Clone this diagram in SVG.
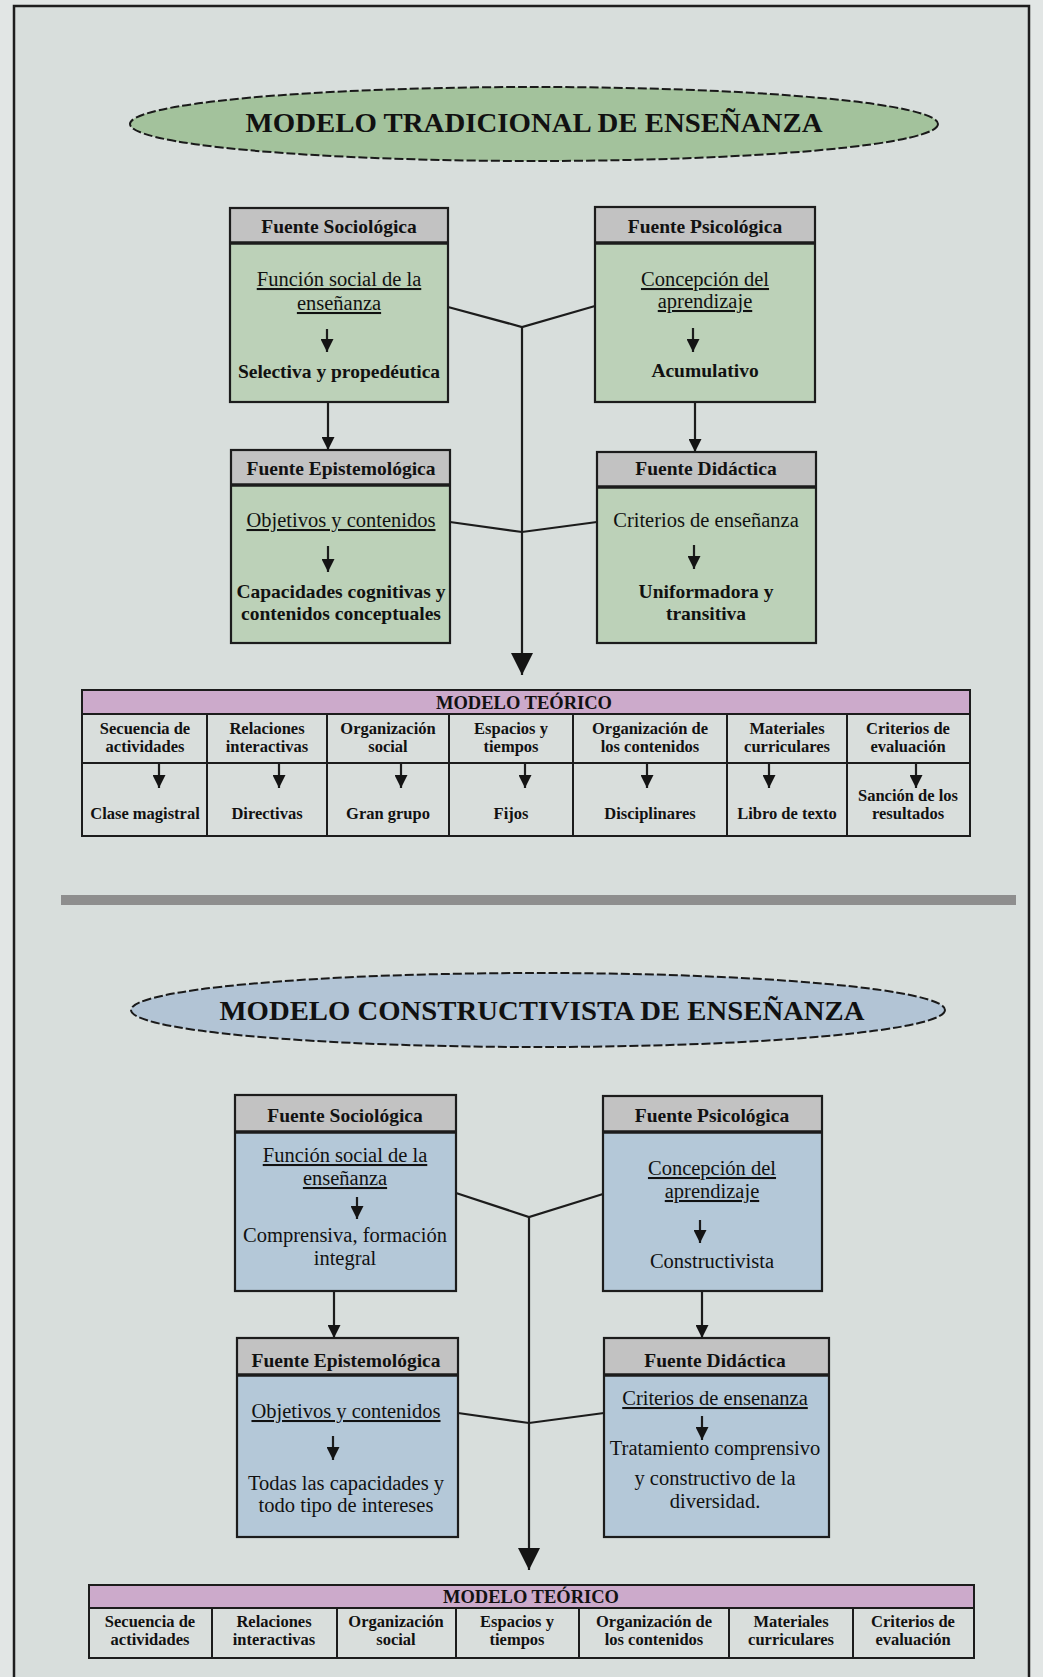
<svg xmlns="http://www.w3.org/2000/svg" width="1043" height="1677" viewBox="0 0 1043 1677">
  <style>
    text { font-family: "Liberation Serif", "Times New Roman", serif; fill: #111; text-anchor: middle; }
    .title { font-size: 28px; font-weight: bold; }
    .hd { font-size: 19.5px; font-weight: bold; }
    .bd { font-size: 20.5px; }
    .bb { font-size: 19.5px; font-weight: bold; }
    .ul { text-decoration: underline; }
    .th { font-size: 18.5px; font-weight: bold; }
    .tc { font-size: 16.5px; font-weight: bold; }
    .frame { fill: none; stroke: #1e1e1e; stroke-width: 2.5; }
    .ell { stroke: #1a1a1a; stroke-width: 2; stroke-dasharray: 9 3; }
    .green { fill: #bcd1b8; }
    .blue { fill: #b4c8d8; }
    .hdr { fill: #c2c2c2; }
    .edge { fill: none; stroke: #1c1c1c; stroke-width: 2.2; }
    .sep { stroke: #1c1c1c; stroke-width: 3.5; }
    .link { fill: none; stroke: #1c1c1c; stroke-width: 2.2; }
    .tip { stroke: #1c1c1c; stroke-width: 2.2; }
    .cell { fill: #d9dedc; }
    .tbar { fill: #ccaacb; }
    .grid { fill: none; stroke: #1c1c1c; stroke-width: 2; }
  </style>
  <defs>
    <marker id="ah" viewBox="0 0 10 10" refX="10" refY="5" markerWidth="13" markerHeight="13" markerUnits="userSpaceOnUse" orient="auto">
      <path d="M0,0 L10,5 L0,10 z" fill="#141414"/>
    </marker>
    <marker id="ahBig" viewBox="0 0 10 10" refX="10" refY="5" markerWidth="22" markerHeight="22" markerUnits="userSpaceOnUse" orient="auto">
      <path d="M0,0 L10,5 L0,10 z" fill="#141414"/>
    </marker>
  </defs>

  <!-- page -->
  <rect x="0" y="0" width="1043" height="1677" fill="#e2e6e5"/>
  <rect x="14" y="6" width="1015" height="1690" fill="#d8dedc"/>
  <path class="frame" d="M14,1677 L14,6 L1029,6 L1029,1677"/>

  <!-- ===== traditional model ===== -->
  <g id="title-tradicional">
    <ellipse class="ell" cx="534" cy="124" rx="404" ry="37" fill="#a3c29c"/>
    <text class="title" x="534" y="132" textLength="577" lengthAdjust="spacingAndGlyphs">MODELO TRADICIONAL DE ENSEÑANZA</text>
  </g>

  <g id="t-sociologica">
    <rect class="green" x="230" y="208" width="218" height="194"/>
    <rect class="hdr" x="230" y="208" width="218" height="35"/>
    <line class="sep" x1="230" y1="243" x2="448" y2="243"/>
    <rect class="edge" x="230" y="208" width="218" height="194"/>
    <text class="hd" x="339" y="233">Fuente Sociológica</text>
    <text class="bd ul" x="339" y="286">Función social de la</text>
    <text class="bd ul" x="339" y="310">enseñanza</text>
    <line class="tip" x1="327" y1="329" x2="327" y2="352" marker-end="url(#ah)"/>
    <text class="bb" x="339" y="378">Selectiva y propedéutica</text>
  </g>

  <g id="t-psicologica">
    <rect class="green" x="595" y="207" width="220" height="195"/>
    <rect class="hdr" x="595" y="207" width="220" height="36"/>
    <line class="sep" x1="595" y1="243" x2="815" y2="243"/>
    <rect class="edge" x="595" y="207" width="220" height="195"/>
    <text class="hd" x="705" y="233">Fuente Psicológica</text>
    <text class="bd ul" x="705" y="286">Concepción del</text>
    <text class="bd ul" x="705" y="308">aprendizaje</text>
    <line class="tip" x1="693" y1="328" x2="693" y2="352" marker-end="url(#ah)"/>
    <text class="bb" x="705" y="377">Acumulativo</text>
  </g>

  <g id="t-epistemologica">
    <rect class="green" x="231" y="450" width="219" height="193"/>
    <rect class="hdr" x="231" y="450" width="219" height="35"/>
    <line class="sep" x1="231" y1="485" x2="450" y2="485"/>
    <rect class="edge" x="231" y="450" width="219" height="193"/>
    <text class="hd" x="341" y="475">Fuente Epistemológica</text>
    <text class="bd ul" x="341" y="527">Objetivos y contenidos</text>
    <line class="tip" x1="328" y1="546" x2="328" y2="572" marker-end="url(#ah)"/>
    <text class="bb" x="341" y="598">Capacidades cognitivas y</text>
    <text class="bb" x="341" y="620">contenidos conceptuales</text>
  </g>

  <g id="t-didactica">
    <rect class="green" x="597" y="452" width="219" height="191"/>
    <rect class="hdr" x="597" y="452" width="219" height="35"/>
    <line class="sep" x1="597" y1="487" x2="816" y2="487"/>
    <rect class="edge" x="597" y="452" width="219" height="191"/>
    <text class="hd" x="706" y="475">Fuente Didáctica</text>
    <text class="bd" x="706" y="527">Criterios de enseñanza</text>
    <line class="tip" x1="694" y1="545" x2="694" y2="569" marker-end="url(#ah)"/>
    <text class="bb" x="706" y="598">Uniformadora y</text>
    <text class="bb" x="706" y="620">transitiva</text>
  </g>

  <g id="t-modelo-teorico">
    <rect class="cell" x="82" y="690" width="888" height="146"/>
    <rect class="tbar" x="82" y="690" width="888" height="24"/>
    <text class="th" x="524" y="709">MODELO TEÓRICO</text>
    <path class="grid" d="M82,690 H970 V836 H82 Z M82,714 H970 M82,763 H970 M207,714 V836 M327,714 V836 M449,714 V836 M573,714 V836 M727,714 V836 M847,714 V836"/>
    <text class="tc" x="145" y="734">Secuencia de</text>
    <text class="tc" x="145" y="752">actividades</text>
    <text class="tc" x="267" y="734">Relaciones</text>
    <text class="tc" x="267" y="752">interactivas</text>
    <text class="tc" x="388" y="734">Organización</text>
    <text class="tc" x="388" y="752">social</text>
    <text class="tc" x="511" y="734">Espacios y</text>
    <text class="tc" x="511" y="752">tiempos</text>
    <text class="tc" x="650" y="734">Organización de</text>
    <text class="tc" x="650" y="752">los contenidos</text>
    <text class="tc" x="787" y="734">Materiales</text>
    <text class="tc" x="787" y="752">curriculares</text>
    <text class="tc" x="908" y="734">Criterios de</text>
    <text class="tc" x="908" y="752">evaluación</text>
    <line class="tip" x1="159" y1="764" x2="159" y2="788" marker-end="url(#ah)"/>
    <line class="tip" x1="279" y1="764" x2="279" y2="788" marker-end="url(#ah)"/>
    <line class="tip" x1="401" y1="764" x2="401" y2="788" marker-end="url(#ah)"/>
    <line class="tip" x1="525" y1="764" x2="525" y2="788" marker-end="url(#ah)"/>
    <line class="tip" x1="647" y1="764" x2="647" y2="788" marker-end="url(#ah)"/>
    <line class="tip" x1="769" y1="764" x2="769" y2="788" marker-end="url(#ah)"/>
    <line class="tip" x1="916" y1="764" x2="916" y2="788" marker-end="url(#ah)"/>
    <text class="tc" x="145" y="819">Clase magistral</text>
    <text class="tc" x="267" y="819">Directivas</text>
    <text class="tc" x="388" y="819">Gran grupo</text>
    <text class="tc" x="511" y="819">Fijos</text>
    <text class="tc" x="650" y="819">Disciplinares</text>
    <text class="tc" x="787" y="819">Libro de texto</text>
    <text class="tc" x="908" y="801">Sanción de los</text>
    <text class="tc" x="908" y="819">resultados</text>
  </g>

  <!-- divider between the two models -->
  <rect x="61" y="895" width="955" height="10" fill="#8e8e8e"/>

  <!-- ===== constructivist model ===== -->
  <g id="title-constructivista">
    <ellipse class="ell" cx="538" cy="1010" rx="407" ry="37" fill="#b2c4d5"/>
    <text class="title" x="542" y="1020" textLength="645" lengthAdjust="spacingAndGlyphs">MODELO CONSTRUCTIVISTA DE ENSEÑANZA</text>
  </g>

  <g id="c-sociologica">
    <rect class="blue" x="235" y="1095" width="221" height="196"/>
    <rect class="hdr" x="235" y="1095" width="221" height="37"/>
    <line class="sep" x1="235" y1="1132" x2="456" y2="1132"/>
    <rect class="edge" x="235" y="1095" width="221" height="196"/>
    <text class="hd" x="345" y="1122">Fuente Sociológica</text>
    <text class="bd ul" x="345" y="1162">Función social de la</text>
    <text class="bd ul" x="345" y="1185">enseñanza</text>
    <line class="tip" x1="357" y1="1197" x2="357" y2="1219" marker-end="url(#ah)"/>
    <text class="bd" x="345" y="1242">Comprensiva, formación</text>
    <text class="bd" x="345" y="1265">integral</text>
  </g>

  <g id="c-psicologica">
    <rect class="blue" x="603" y="1096" width="219" height="195"/>
    <rect class="hdr" x="603" y="1096" width="219" height="36"/>
    <line class="sep" x1="603" y1="1132" x2="822" y2="1132"/>
    <rect class="edge" x="603" y="1096" width="219" height="195"/>
    <text class="hd" x="712" y="1122">Fuente Psicológica</text>
    <text class="bd ul" x="712" y="1175">Concepción del</text>
    <text class="bd ul" x="712" y="1198">aprendizaje</text>
    <line class="tip" x1="700" y1="1220" x2="700" y2="1243" marker-end="url(#ah)"/>
    <text class="bd" x="712" y="1268">Constructivista</text>
  </g>

  <g id="c-epistemologica">
    <rect class="blue" x="237" y="1338" width="221" height="199"/>
    <rect class="hdr" x="237" y="1338" width="221" height="37"/>
    <line class="sep" x1="237" y1="1375" x2="458" y2="1375"/>
    <rect class="edge" x="237" y="1338" width="221" height="199"/>
    <text class="hd" x="346" y="1367">Fuente Epistemológica</text>
    <text class="bd ul" x="346" y="1418">Objetivos y contenidos</text>
    <line class="tip" x1="333" y1="1436" x2="333" y2="1460" marker-end="url(#ah)"/>
    <text class="bd" x="346" y="1490">Todas las capacidades y</text>
    <text class="bd" x="346" y="1512">todo tipo de intereses</text>
  </g>

  <g id="c-didactica">
    <rect class="blue" x="604" y="1338" width="225" height="199"/>
    <rect class="hdr" x="604" y="1338" width="225" height="37"/>
    <line class="sep" x1="604" y1="1375" x2="829" y2="1375"/>
    <rect class="edge" x="604" y="1338" width="225" height="199"/>
    <text class="hd" x="715" y="1367">Fuente Didáctica</text>
    <text class="bd ul" x="715" y="1405">Criterios de ensenanza</text>
    <line class="tip" x1="702" y1="1416" x2="702" y2="1440" marker-end="url(#ah)"/>
    <text class="bd" x="715" y="1455">Tratamiento comprensivo</text>
    <text class="bd" x="715" y="1485">y constructivo de la</text>
    <text class="bd" x="715" y="1508">diversidad.</text>
  </g>

  <g id="c-modelo-teorico">
    <rect class="cell" x="89" y="1585" width="885" height="73"/>
    <rect class="tbar" x="89" y="1585" width="885" height="23"/>
    <text class="th" x="531" y="1603">MODELO TEÓRICO</text>
    <path class="grid" d="M89,1585 H974 V1658 H89 Z M89,1608 H974 M212,1608 V1658 M337,1608 V1658 M456,1608 V1658 M579,1608 V1658 M729,1608 V1658 M853,1608 V1658"/>
    <text class="tc" x="150" y="1627">Secuencia de</text>
    <text class="tc" x="150" y="1645">actividades</text>
    <text class="tc" x="274" y="1627">Relaciones</text>
    <text class="tc" x="274" y="1645">interactivas</text>
    <text class="tc" x="396" y="1627">Organización</text>
    <text class="tc" x="396" y="1645">social</text>
    <text class="tc" x="517" y="1627">Espacios y</text>
    <text class="tc" x="517" y="1645">tiempos</text>
    <text class="tc" x="654" y="1627">Organización de</text>
    <text class="tc" x="654" y="1645">los contenidos</text>
    <text class="tc" x="791" y="1627">Materiales</text>
    <text class="tc" x="791" y="1645">curriculares</text>
    <text class="tc" x="913" y="1627">Criterios de</text>
    <text class="tc" x="913" y="1645">evaluación</text>
  </g>

  <!-- connectors -->
  <g id="connectors">
    <line class="link" x1="328" y1="402" x2="328" y2="450" marker-end="url(#ah)"/>
    <line class="link" x1="695" y1="402" x2="695" y2="452" marker-end="url(#ah)"/>
    <polyline class="link" points="448,307 522,327 595,306"/>
    <polyline class="link" points="450,522 522,532 597,522"/>
    <line class="link" x1="522" y1="327" x2="522" y2="675" marker-end="url(#ahBig)"/>

    <line class="link" x1="334" y1="1291" x2="334" y2="1338" marker-end="url(#ah)"/>
    <line class="link" x1="702" y1="1291" x2="702" y2="1338" marker-end="url(#ah)"/>
    <polyline class="link" points="456,1193 529,1217 603,1194"/>
    <polyline class="link" points="458,1413 529,1423 604,1413"/>
    <line class="link" x1="529" y1="1217" x2="529" y2="1570" marker-end="url(#ahBig)"/>
  </g>
</svg>
